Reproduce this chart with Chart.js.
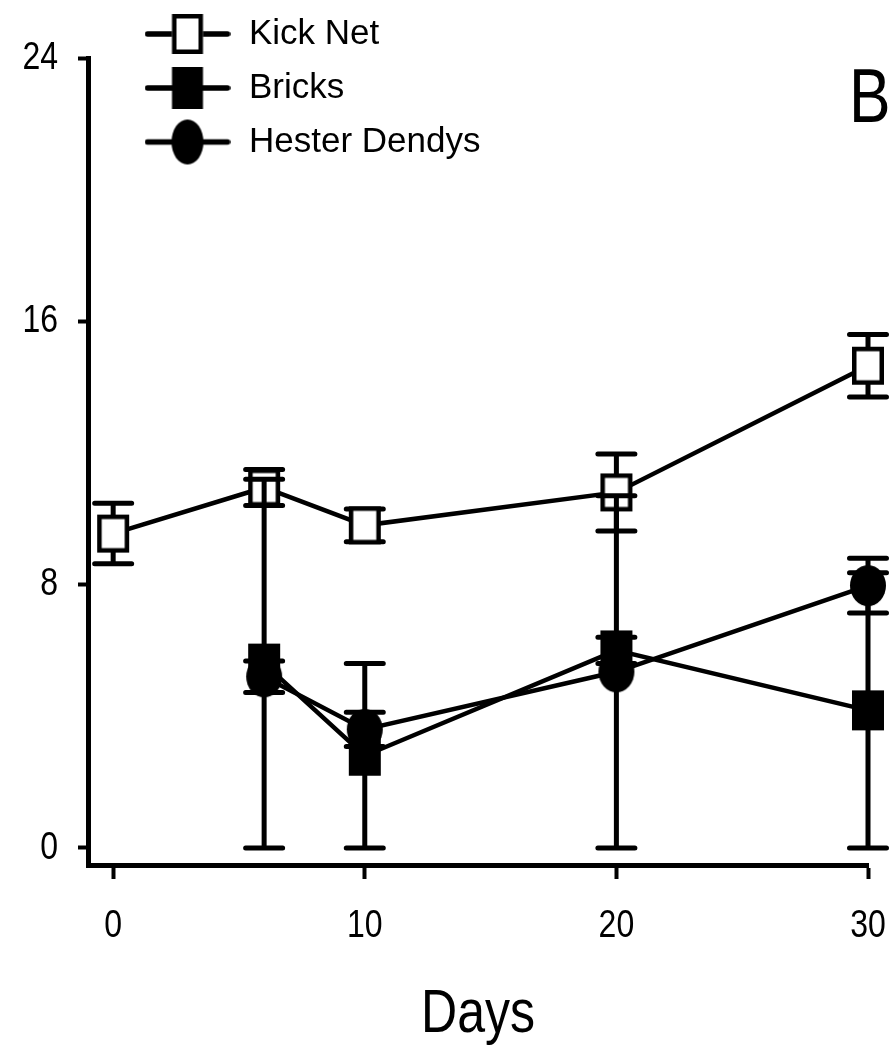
<!DOCTYPE html>
<html><head><meta charset="utf-8">
<script src="https://cdn.jsdelivr.net/npm/chart.js@4.4.1/dist/chart.umd.min.js"></script>
<style>html,body{margin:0;padding:0;background:#fff;}</style>
</head><body>
<canvas id="c" width="891" height="1046"></canvas>
<script>
// ---- data ----
const seriesNames = ['Kick Net', 'Bricks', 'Hester Dendys'];
const kickNetDays = [0, 6, 10, 20, 30];
const kickNetMean = [9.55, 10.95, 9.8, 10.8, 14.65];
const kickNetErr  = [0.92, 0.55, 0.5, 1.17, 0.95];
const substrateDays = [6, 10, 20, 30];
const bricksMean = [5.6, 2.8, 6.0, 4.18];
const bricksErr  = [5.6, 2.8, 0.4, 4.18];
const hesterMean = [5.2, 3.6, 5.35, 7.97];
const hesterErr  = [0.48, 0.52, 5.35, 0.83];
const xTickValues = [0, 10, 20, 30];
const yTickValues = [0, 8, 16, 24];
const xAxisTitle = 'Days';
const panelLabel = 'B';

const REG = '"Liberation Sans", Arial, sans-serif';
const NARROW_FACTOR = 0.82;

// draw text horizontally condensed (Arial-Narrow look) around its anchor point
function condensed(ctx, fn) {
  const orig = ctx.fillText;
  ctx.fillText = function (t, x, y, mw) {
    this.save(); this.translate(x, y); this.scale(NARROW_FACTOR, 1);
    orig.call(this, t, 0, 0, mw); this.restore();
  };
  try { fn(); } finally { ctx.fillText = orig; }
}

function marker(kind, w, h, withLine, lineLen) {
  const W = withLine ? lineLen : w + 6, H = h + 6;
  const c = document.createElement('canvas');
  c.width = W; c.height = H;
  const g = c.getContext('2d');
  const cx = W / 2, cy = H / 2;
  g.strokeStyle = '#000'; g.fillStyle = '#000';
  if (withLine) {
    g.lineWidth = 5.5; g.lineCap = 'round';
    g.beginPath(); g.moveTo(3, cy); g.lineTo(W - 3, cy); g.stroke();
  }
  if (kind === 'open') {
    g.fillStyle = '#fff';
    g.fillRect(cx - w / 2, cy - h / 2, w, h);
    g.lineWidth = 4.5;
    g.strokeRect(cx - w / 2 + 2.25, cy - h / 2 + 2.25, w - 4.5, h - 4.5);
  } else if (kind === 'filled') {
    g.fillRect(cx - w / 2, cy - h / 2, w, h);
  } else {
    g.beginPath(); g.ellipse(cx, cy, w / 2, h / 2, 0, 0, Math.PI * 2); g.fill();
  }
  return c;
}
const plotMarkers = [marker('open', 32, 38), marker('filled', 32, 40), marker('circle', 36, 41)];
const legendMarkers = [marker('open', 31, 40, true, 86), marker('filled', 31, 42, true, 86), marker('circle', 32, 45, true, 86)];
const errorSets = [kickNetErr, bricksErr, hesterErr];

const errorBars = {
  id: 'errorBars',
  beforeDatasetDraw(chart, args) {
    const errs = errorSets[args.index];
    const ds = chart.data.datasets[args.index];
    const xs = chart.scales.x, ys = chart.scales.y, ctx = chart.ctx;
    ctx.save();
    ctx.strokeStyle = '#000'; ctx.lineWidth = 5; ctx.lineCap = 'round';
    ds.data.forEach((p, i) => {
      const px = xs.getPixelForValue(p.x);
      const top = ys.getPixelForValue(p.y + errs[i]);
      const bot = ys.getPixelForValue(p.y - errs[i]);
      ctx.beginPath();
      ctx.moveTo(px, top); ctx.lineTo(px, bot);
      ctx.moveTo(px - 18.5, top); ctx.lineTo(px + 18.5, top);
      ctx.moveTo(px - 18.5, bot); ctx.lineTo(px + 18.5, bot);
      ctx.stroke();
    });
    ctx.restore();
  }
};
const layoutTweaks = {
  id: 'layoutTweaks',
  afterLayout(chart) {
    const lg = chart.legend;
    if (lg) { lg.left = 124.5; lg.top = -2.5; lg.right = 880; lg.bottom = 880; }
    [chart.scales.x, chart.scales.y].forEach(s => {
      if (s._narrowPatched) return;
      const dl = s.drawLabels, dt = s.drawTitle;
      s.drawLabels = function (a) { condensed(this.ctx, () => dl.call(this, a)); };
      s.drawTitle = function () { condensed(this.ctx, () => dt.call(this)); };
      s._narrowPatched = true;
    });
  }
};
const panelText = {
  id: 'panelText',
  afterDraw(chart) {
    const ctx = chart.ctx;
    ctx.save();
    ctx.fillStyle = '#000';
    ctx.font = '76px ' + REG;
    ctx.textAlign = 'left'; ctx.textBaseline = 'alphabetic';
    condensed(ctx, () => ctx.fillText(panelLabel, 849, 122));
    ctx.restore();
  }
};

const ds = (label, days, mean, idx, order) => ({
  label,
  data: days.map((d, i) => ({x: d, y: mean[i]})),
  borderColor: '#000', backgroundColor: '#000', borderWidth: 4.5,
  pointStyle: plotMarkers[idx], pointRadius: 18, pointHoverRadius: 18,
  tension: 0, fill: false, clip: false, order
});

new Chart(document.getElementById('c'), {
  type: 'line',
  data: { datasets: [
    ds(seriesNames[0], kickNetDays, kickNetMean, 0, 3),
    ds(seriesNames[1], substrateDays, bricksMean, 1, 2),
    ds(seriesNames[2], substrateDays, hesterMean, 2, 1)
  ]},
  options: {
    responsive: false, animation: false, events: [],
    layout: { padding: { top: 58, right: 23, bottom: 0, left: 0 } },
    plugins: {
      tooltip: { enabled: false },
      legend: {
        position: 'chartArea', align: 'start',
        labels: {
          usePointStyle: true, pointStyleWidth: 88, padding: 19, color: '#000',
          font: { family: REG, size: 35 },
          sort: (a, b) => a.datasetIndex - b.datasetIndex,
          generateLabels: (chart) => Chart.defaults.plugins.legend.labels.generateLabels(chart)
            .map(l => Object.assign(l, { pointStyle: legendMarkers[l.datasetIndex], fontColor: '#000' }))
        }
      }
    },
    scales: {
      x: {
        type: 'linear', min: -1, max: 30,
        afterBuildTicks: s => { s.ticks = xTickValues.map(v => ({value: v})); },
        afterFit: s => { s.height = 181; s.paddingLeft = 0; s.paddingRight = 0; },
        border: { display: true, color: '#000', width: 5 },
        grid: { display: true, drawOnChartArea: false, drawTicks: true, tickLength: 14, tickWidth: 4, tickColor: '#000' },
        ticks: { color: '#000', padding: 24, maxRotation: 0, font: { family: REG, size: 39 } },
        title: { display: true, text: xAxisTitle, color: '#000', font: { family: REG, size: 61 }, padding: { top: 0, bottom: -6 } }
      },
      y: {
        type: 'linear', min: -0.52, max: 24,
        afterBuildTicks: s => { s.ticks = yTickValues.map(v => ({value: v})); },
        afterFit: s => { s.width = 88; s.paddingTop = 0; s.paddingBottom = 0; },
        border: { display: true, color: '#000', width: 5 },
        grid: { display: true, drawOnChartArea: false, drawTicks: true, tickLength: 10, tickWidth: 4, tickColor: '#000' },
        ticks: { color: '#000', padding: 20, font: { family: REG, size: 39 } }
      }
    }
  },
  plugins: [errorBars, layoutTweaks, panelText]
});
</script>
</body></html>
